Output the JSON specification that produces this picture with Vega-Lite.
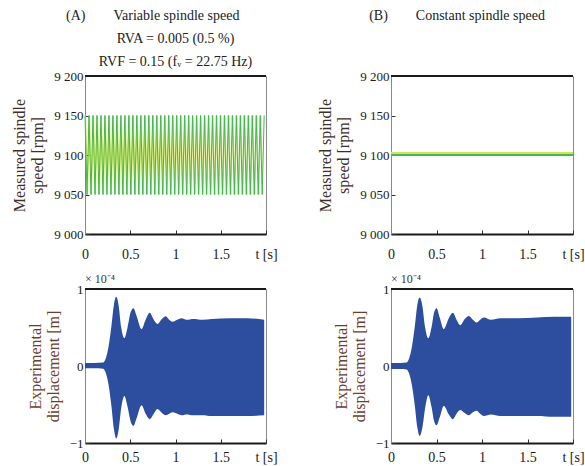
{
 "$schema": "https://vega.github.io/schema/vega-lite/v6.json",
 "background": "white",
 "padding": {"left": 11, "top": 8, "right": 0, "bottom": 0},
 "bounds": "flush",
 "columns": 2,
 "spacing": {"row": 55, "column": 125},
 "config": {
  "font": "Liberation Serif",
  "view": {"stroke": "#8a8a8a", "strokeWidth": 1},
  "title": {"font": "Liberation Serif", "fontSize": 14, "fontWeight": "normal", "color": "#222", "lineHeight": 23, "frame": "group", "anchor": "middle", "offset": 1},
  "axis": {"grid": false, "labelFont": "Liberation Serif", "labelFontSize": 14, "labelColor": "#1a1a1a", "titleFont": "Liberation Serif", "titleFontSize": 16, "titleFontWeight": "normal", "tickSize": -4, "tickColor": "#333", "labelPadding": 6, "domainColor": "#1a1a1a", "labelOverlap": false},
  "axisX": {"domainWidth": 2, "labelFlush": false, "labelBound": false, "title": null},
  "axisY": {"domainWidth": 1, "domainColor": "#888", "titleColor": "#3b302c", "titleLineHeight": 18, "titlePadding": 8, "labelFontSize": 13}
 },
 "datasets": {
  "speedA": [
   {"t":0.006,"v":9150,"s":"y"},{"t":0.028,"v":9050,"s":"y"},{"t":0.05,"v":9150,"s":"y"},{"t":0.072,"v":9050,"s":"y"},{"t":0.094,"v":9150,"s":"y"},{"t":0.116,"v":9050,"s":"y"},{"t":0.138,"v":9150,"s":"y"},{"t":0.16,"v":9050,"s":"y"},{"t":0.182,"v":9150,"s":"y"},{"t":0.204,"v":9050,"s":"y"},
   {"t":0.226,"v":9150,"s":"y"},{"t":0.248,"v":9050,"s":"y"},{"t":0.27,"v":9150,"s":"y"},{"t":0.292,"v":9050,"s":"y"},{"t":0.314,"v":9150,"s":"y"},{"t":0.336,"v":9050,"s":"y"},{"t":0.358,"v":9150,"s":"y"},{"t":0.38,"v":9050,"s":"y"},{"t":0.402,"v":9150,"s":"y"},{"t":0.424,"v":9050,"s":"y"},
   {"t":0.446,"v":9150,"s":"y"},{"t":0.468,"v":9050,"s":"y"},{"t":0.49,"v":9150,"s":"y"},{"t":0.512,"v":9050,"s":"y"},{"t":0.534,"v":9150,"s":"y"},{"t":0.556,"v":9050,"s":"y"},{"t":0.578,"v":9150,"s":"y"},{"t":0.6,"v":9050,"s":"y"},{"t":0.622,"v":9150,"s":"y"},{"t":0.644,"v":9050,"s":"y"},
   {"t":0.666,"v":9150,"s":"y"},{"t":0.688,"v":9050,"s":"y"},{"t":0.71,"v":9150,"s":"y"},{"t":0.732,"v":9050,"s":"y"},{"t":0.754,"v":9150,"s":"y"},{"t":0.776,"v":9050,"s":"y"},{"t":0.798,"v":9150,"s":"y"},{"t":0.82,"v":9050,"s":"y"},{"t":0.842,"v":9150,"s":"y"},{"t":0.864,"v":9050,"s":"y"},
   {"t":0.886,"v":9150,"s":"y"},{"t":0.908,"v":9050,"s":"y"},{"t":0.93,"v":9150,"s":"y"},{"t":0.952,"v":9050,"s":"y"},{"t":0.974,"v":9150,"s":"y"},{"t":0.996,"v":9050,"s":"y"},{"t":1.018,"v":9150,"s":"y"},{"t":1.04,"v":9050,"s":"y"},{"t":1.062,"v":9150,"s":"y"},{"t":1.084,"v":9050,"s":"y"},
   {"t":1.106,"v":9150,"s":"y"},{"t":1.128,"v":9050,"s":"y"},{"t":1.15,"v":9150,"s":"y"},{"t":1.172,"v":9050,"s":"y"},{"t":1.194,"v":9150,"s":"y"},{"t":1.216,"v":9050,"s":"y"},{"t":1.238,"v":9150,"s":"y"},{"t":1.26,"v":9050,"s":"y"},{"t":1.282,"v":9150,"s":"y"},{"t":1.304,"v":9050,"s":"y"},
   {"t":1.326,"v":9150,"s":"y"},{"t":1.348,"v":9050,"s":"y"},{"t":1.37,"v":9150,"s":"y"},{"t":1.392,"v":9050,"s":"y"},{"t":1.414,"v":9150,"s":"y"},{"t":1.436,"v":9050,"s":"y"},{"t":1.458,"v":9150,"s":"y"},{"t":1.48,"v":9050,"s":"y"},{"t":1.502,"v":9150,"s":"y"},{"t":1.524,"v":9050,"s":"y"},
   {"t":1.546,"v":9150,"s":"y"},{"t":1.568,"v":9050,"s":"y"},{"t":1.59,"v":9150,"s":"y"},{"t":1.612,"v":9050,"s":"y"},{"t":1.634,"v":9150,"s":"y"},{"t":1.656,"v":9050,"s":"y"},{"t":1.678,"v":9150,"s":"y"},{"t":1.7,"v":9050,"s":"y"},{"t":1.722,"v":9150,"s":"y"},{"t":1.744,"v":9050,"s":"y"},
   {"t":1.766,"v":9150,"s":"y"},{"t":1.788,"v":9050,"s":"y"},{"t":1.81,"v":9150,"s":"y"},{"t":1.832,"v":9050,"s":"y"},{"t":1.854,"v":9150,"s":"y"},{"t":1.876,"v":9050,"s":"y"},{"t":1.898,"v":9150,"s":"y"},{"t":1.92,"v":9050,"s":"y"},{"t":1.942,"v":9150,"s":"y"},{"t":1.964,"v":9050,"s":"y"},
   {"t":0,"v":9150,"s":"g"},{"t":0.022,"v":9050,"s":"g"},{"t":0.044,"v":9150,"s":"g"},{"t":0.066,"v":9050,"s":"g"},{"t":0.088,"v":9150,"s":"g"},{"t":0.11,"v":9050,"s":"g"},{"t":0.132,"v":9150,"s":"g"},{"t":0.154,"v":9050,"s":"g"},{"t":0.176,"v":9150,"s":"g"},{"t":0.198,"v":9050,"s":"g"},
   {"t":0.22,"v":9150,"s":"g"},{"t":0.242,"v":9050,"s":"g"},{"t":0.264,"v":9150,"s":"g"},{"t":0.286,"v":9050,"s":"g"},{"t":0.308,"v":9150,"s":"g"},{"t":0.33,"v":9050,"s":"g"},{"t":0.352,"v":9150,"s":"g"},{"t":0.374,"v":9050,"s":"g"},{"t":0.396,"v":9150,"s":"g"},{"t":0.418,"v":9050,"s":"g"},
   {"t":0.44,"v":9150,"s":"g"},{"t":0.462,"v":9050,"s":"g"},{"t":0.484,"v":9150,"s":"g"},{"t":0.506,"v":9050,"s":"g"},{"t":0.528,"v":9150,"s":"g"},{"t":0.55,"v":9050,"s":"g"},{"t":0.572,"v":9150,"s":"g"},{"t":0.594,"v":9050,"s":"g"},{"t":0.616,"v":9150,"s":"g"},{"t":0.638,"v":9050,"s":"g"},
   {"t":0.66,"v":9150,"s":"g"},{"t":0.682,"v":9050,"s":"g"},{"t":0.704,"v":9150,"s":"g"},{"t":0.726,"v":9050,"s":"g"},{"t":0.748,"v":9150,"s":"g"},{"t":0.77,"v":9050,"s":"g"},{"t":0.792,"v":9150,"s":"g"},{"t":0.814,"v":9050,"s":"g"},{"t":0.836,"v":9150,"s":"g"},{"t":0.858,"v":9050,"s":"g"},
   {"t":0.88,"v":9150,"s":"g"},{"t":0.902,"v":9050,"s":"g"},{"t":0.924,"v":9150,"s":"g"},{"t":0.946,"v":9050,"s":"g"},{"t":0.968,"v":9150,"s":"g"},{"t":0.99,"v":9050,"s":"g"},{"t":1.012,"v":9150,"s":"g"},{"t":1.034,"v":9050,"s":"g"},{"t":1.056,"v":9150,"s":"g"},{"t":1.078,"v":9050,"s":"g"},
   {"t":1.1,"v":9150,"s":"g"},{"t":1.122,"v":9050,"s":"g"},{"t":1.144,"v":9150,"s":"g"},{"t":1.166,"v":9050,"s":"g"},{"t":1.188,"v":9150,"s":"g"},{"t":1.21,"v":9050,"s":"g"},{"t":1.232,"v":9150,"s":"g"},{"t":1.254,"v":9050,"s":"g"},{"t":1.276,"v":9150,"s":"g"},{"t":1.298,"v":9050,"s":"g"},
   {"t":1.32,"v":9150,"s":"g"},{"t":1.342,"v":9050,"s":"g"},{"t":1.364,"v":9150,"s":"g"},{"t":1.386,"v":9050,"s":"g"},{"t":1.408,"v":9150,"s":"g"},{"t":1.43,"v":9050,"s":"g"},{"t":1.452,"v":9150,"s":"g"},{"t":1.474,"v":9050,"s":"g"},{"t":1.496,"v":9150,"s":"g"},{"t":1.518,"v":9050,"s":"g"},
   {"t":1.54,"v":9150,"s":"g"},{"t":1.562,"v":9050,"s":"g"},{"t":1.584,"v":9150,"s":"g"},{"t":1.606,"v":9050,"s":"g"},{"t":1.628,"v":9150,"s":"g"},{"t":1.65,"v":9050,"s":"g"},{"t":1.672,"v":9150,"s":"g"},{"t":1.694,"v":9050,"s":"g"},{"t":1.716,"v":9150,"s":"g"},{"t":1.738,"v":9050,"s":"g"},
   {"t":1.76,"v":9150,"s":"g"},{"t":1.782,"v":9050,"s":"g"},{"t":1.804,"v":9150,"s":"g"},{"t":1.826,"v":9050,"s":"g"},{"t":1.848,"v":9150,"s":"g"},{"t":1.87,"v":9050,"s":"g"},{"t":1.892,"v":9150,"s":"g"},{"t":1.914,"v":9050,"s":"g"},{"t":1.936,"v":9150,"s":"g"},{"t":1.958,"v":9050,"s":"g"},{"t":1.98,"v":9150,"s":"g"}
  ],
  "speedB": [
   {"t":0,"v":9102,"s":"y"},{"t":2,"v":9102,"s":"y"},
   {"t":0,"v":9100,"s":"g"},{"t":2,"v":9100,"s":"g"}
  ],
  "dispA": [
   {"t":0,"hi":0.04,"lo":-0.03},{"t":0.1,"hi":0.04,"lo":-0.03},{"t":0.2,"hi":0.045,"lo":-0.035},{"t":0.23,"hi":0.1,"lo":-0.09},{"t":0.26,"hi":0.25,"lo":-0.24},{"t":0.29,"hi":0.5,"lo":-0.5},{"t":0.32,"hi":0.8,"lo":-0.82},{"t":0.345,"hi":0.9,"lo":-0.94},{"t":0.37,"hi":0.8,"lo":-0.84},{"t":0.4,"hi":0.5,"lo":-0.55},
   {"t":0.435,"hi":0.36,"lo":-0.39},{"t":0.47,"hi":0.5,"lo":-0.53},{"t":0.505,"hi":0.7,"lo":-0.72},{"t":0.535,"hi":0.75,"lo":-0.78},{"t":0.57,"hi":0.65,"lo":-0.68},{"t":0.625,"hi":0.48,"lo":-0.51},{"t":0.67,"hi":0.6,"lo":-0.62},{"t":0.715,"hi":0.69,"lo":-0.69},{"t":0.76,"hi":0.6,"lo":-0.62},{"t":0.8,"hi":0.545,"lo":-0.56},
   {"t":0.85,"hi":0.61,"lo":-0.61},{"t":0.893,"hi":0.645,"lo":-0.64},{"t":0.93,"hi":0.6,"lo":-0.62},{"t":0.967,"hi":0.575,"lo":-0.6},{"t":1.02,"hi":0.6,"lo":-0.62},{"t":1.07,"hi":0.62,"lo":-0.64},{"t":1.12,"hi":0.6,"lo":-0.63},{"t":1.2,"hi":0.61,"lo":-0.64},{"t":1.3,"hi":0.6,"lo":-0.64},{"t":1.4,"hi":0.61,"lo":-0.65},
   {"t":1.6,"hi":0.62,"lo":-0.65},{"t":1.8,"hi":0.62,"lo":-0.65},{"t":1.98,"hi":0.6,"lo":-0.64}
  ],
  "dispB": [
   {"t":0,"hi":0.04,"lo":-0.04},{"t":0.1,"hi":0.04,"lo":-0.04},{"t":0.17,"hi":0.045,"lo":-0.045},{"t":0.2,"hi":0.1,"lo":-0.1},{"t":0.23,"hi":0.25,"lo":-0.25},{"t":0.26,"hi":0.5,"lo":-0.5},{"t":0.29,"hi":0.8,"lo":-0.8},{"t":0.316,"hi":0.89,"lo":-0.91},{"t":0.345,"hi":0.78,"lo":-0.8},{"t":0.375,"hi":0.5,"lo":-0.55},
   {"t":0.41,"hi":0.36,"lo":-0.38},{"t":0.445,"hi":0.5,"lo":-0.53},{"t":0.475,"hi":0.7,"lo":-0.72},{"t":0.5,"hi":0.75,"lo":-0.77},{"t":0.535,"hi":0.63,"lo":-0.67},{"t":0.58,"hi":0.48,"lo":-0.52},{"t":0.635,"hi":0.62,"lo":-0.63},{"t":0.68,"hi":0.69,"lo":-0.69},{"t":0.72,"hi":0.6,"lo":-0.62},{"t":0.76,"hi":0.53,"lo":-0.57},
   {"t":0.81,"hi":0.61,"lo":-0.61},{"t":0.855,"hi":0.65,"lo":-0.64},{"t":0.9,"hi":0.6,"lo":-0.6},{"t":0.94,"hi":0.565,"lo":-0.58},{"t":0.98,"hi":0.6,"lo":-0.62},{"t":1.02,"hi":0.63,"lo":-0.65},{"t":1.1,"hi":0.6,"lo":-0.63},{"t":1.2,"hi":0.62,"lo":-0.65},{"t":1.4,"hi":0.62,"lo":-0.65},{"t":1.6,"hi":0.63,"lo":-0.65},
   {"t":1.8,"hi":0.64,"lo":-0.66},{"t":1.98,"hi":0.64,"lo":-0.66}
  ]
 },
 "concat": [
  {
   "width": 181, "height": 158,
   "title": {"text": ["(A)\u00a0\u00a0\u00a0\u00a0\u00a0\u00a0\u00a0\u00a0Variable spindle speed\u00a0\u00a0\u00a0\u00a0\u00a0\u00a0\u00a0\u00a0\u00a0\u00a0\u00a0\u00a0\u00a0\u200b", "RVA = 0.005 (0.5 %)", "RVF = 0.15 (fᵥ = 22.75 Hz)"]},
   "layer": [
    {"data": {"name": "speedA"}, "mark": {"type": "line", "strokeWidth": 1},
     "encoding": {
      "x": {"field": "t", "type": "quantitative", "scale": {"domain": [0, 2], "nice": false}, "axis": {"values": [0, 0.5, 1, 1.5, 2], "labelPadding": 17, "labelOverlap": false, "labelExpr": "datum.value == 2 ? 't [s]' : format(datum.value, '~g')"}},
      "y": {"field": "v", "type": "quantitative", "scale": {"domain": [9000, 9200], "nice": false, "zero": false}, "axis": {"values": [9000, 9050, 9100, 9150, 9200], "labelOverlap": false, "labelExpr": "replace(format(datum.value, ','), ',', ' ')", "title": ["Measured spindle", "speed [rpm]"]}},
      "color": {"field": "s", "type": "nominal", "scale": {"domain": ["g", "y"], "range": ["#45b84e", "#d4e45a"]}, "legend": null}
     }},
    {"data": {"values": [{}]}, "mark": {"type": "rule", "strokeWidth": 2, "color": "#1a1a1a"}, "encoding": {"y": {"datum": 9200, "axis": {"values": [9000, 9050, 9100, 9150, 9200], "labelOverlap": false, "labelExpr": "replace(format(datum.value, ','), ',', ' ')", "title": ["Measured spindle", "speed [rpm]"]}}}}
   ]
  },
  {
   "width": 182, "height": 158,
   "title": {"text": ["(B)\u00a0\u00a0\u00a0\u00a0\u00a0\u00a0\u00a0\u00a0Constant spindle speed", "\u00a0", "\u00a0"], "dx": -25},
   "layer": [
    {"data": {"name": "speedB"}, "mark": {"type": "line"},
     "encoding": {
      "x": {"field": "t", "type": "quantitative", "scale": {"domain": [0, 2], "nice": false}, "axis": {"values": [0, 0.5, 1, 1.5, 2], "labelPadding": 17, "labelOverlap": false, "labelExpr": "datum.value == 2 ? 't [s]' : format(datum.value, '~g')"}},
      "y": {"field": "v", "type": "quantitative", "scale": {"domain": [9000, 9200], "nice": false, "zero": false}, "axis": {"values": [9000, 9050, 9100, 9150, 9200], "labelOverlap": false, "labelExpr": "replace(format(datum.value, ','), ',', ' ')", "title": ["Measured spindle", "speed [rpm]"]}},
      "color": {"field": "s", "type": "nominal", "scale": {"domain": ["g", "y"], "range": ["#3dba5a", "#eef2a0"]}, "legend": null},
      "strokeWidth": {"field": "s", "type": "nominal", "scale": {"domain": ["g", "y"], "range": [2, 3]}, "legend": null}
     }},
    {"data": {"values": [{}]}, "mark": {"type": "rule", "strokeWidth": 2, "color": "#1a1a1a"}, "encoding": {"y": {"datum": 9200, "axis": {"values": [9000, 9050, 9100, 9150, 9200], "labelOverlap": false, "labelExpr": "replace(format(datum.value, ','), ',', ' ')", "title": ["Measured spindle", "speed [rpm]"]}}}}
   ]
  },
  {
   "width": 181, "height": 154,
   "title": {"text": "× 10⁻⁴", "anchor": "start", "fontSize": 12, "offset": -3, "color": "#333"},
   "layer": [
    {"data": {"name": "dispA"}, "mark": {"type": "area", "color": "#2d4e9f", "interpolate": "monotone"},
     "encoding": {
      "x": {"field": "t", "type": "quantitative", "scale": {"domain": [0, 2], "nice": false}, "axis": {"values": [0, 0.5, 1, 1.5, 2], "labelPadding": 11, "labelOverlap": false, "labelExpr": "datum.value == 2 ? 't [s]' : format(datum.value, '~g')"}},
      "y": {"field": "hi", "type": "quantitative", "scale": {"domain": [-1, 1], "nice": false}, "axis": {"values": [-1, 0, 1], "labelOverlap": false, "labelExpr": "format(datum.value, 'd')", "title": ["Experimental", "displacement [m]"], "titleColor": "#6b3f30"}},
      "y2": {"field": "lo"}
     }},
    {"data": {"values": [{}]}, "mark": {"type": "rule", "strokeWidth": 2, "color": "#1a1a1a"}, "encoding": {"y": {"datum": 1, "axis": {"values": [-1, 0, 1], "labelOverlap": false, "labelExpr": "format(datum.value, 'd')", "title": ["Experimental", "displacement [m]"], "titleColor": "#6b3f30"}}}}
   ]
  },
  {
   "width": 182, "height": 154,
   "title": {"text": "× 10⁻⁴", "anchor": "start", "fontSize": 12, "offset": -3, "color": "#333"},
   "layer": [
    {"data": {"name": "dispB"}, "mark": {"type": "area", "color": "#2d4e9f", "interpolate": "monotone"},
     "encoding": {
      "x": {"field": "t", "type": "quantitative", "scale": {"domain": [0, 2], "nice": false}, "axis": {"values": [0, 0.5, 1, 1.5, 2], "labelPadding": 11, "labelOverlap": false, "labelExpr": "datum.value == 2 ? 't [s]' : format(datum.value, '~g')"}},
      "y": {"field": "hi", "type": "quantitative", "scale": {"domain": [-1, 1], "nice": false}, "axis": {"values": [-1, 0, 1], "labelOverlap": false, "labelExpr": "format(datum.value, 'd')", "title": ["Experimental", "displacement [m]"], "titleColor": "#6b3f30"}},
      "y2": {"field": "lo"}
     }},
    {"data": {"values": [{}]}, "mark": {"type": "rule", "strokeWidth": 2, "color": "#1a1a1a"}, "encoding": {"y": {"datum": 1, "axis": {"values": [-1, 0, 1], "labelOverlap": false, "labelExpr": "format(datum.value, 'd')", "title": ["Experimental", "displacement [m]"], "titleColor": "#6b3f30"}}}}
   ]
  }
 ]
}
